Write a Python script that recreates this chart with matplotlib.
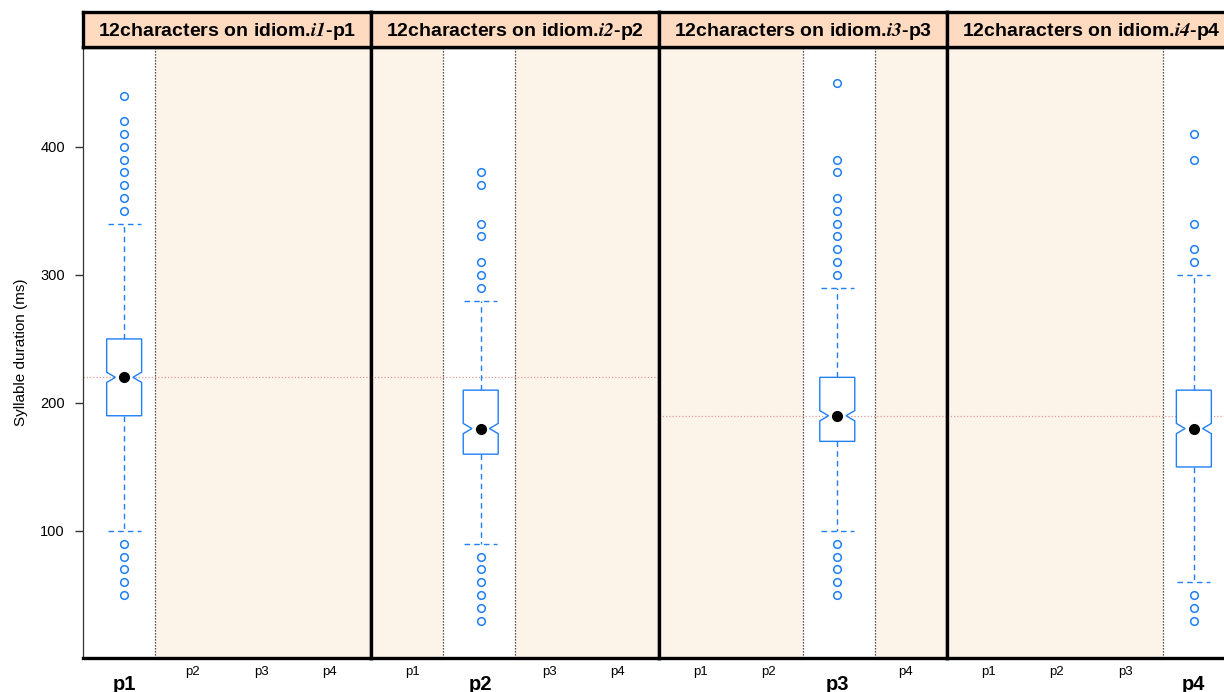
import matplotlib
matplotlib.use("Agg")
import matplotlib.pyplot as plt
from matplotlib.transforms import blended_transform_factory

plt.rcParams['font.family'] = ['Liberation Sans', 'DejaVu Sans']
plt.rcParams['mathtext.fontset'] = 'stix'

# Positions within each idiom, and which one each panel highlights
positions = ['p1', 'p2', 'p3', 'p4']
idioms = ['i1', 'i2', 'i3', 'i4']
highlight = [1, 2, 3, 4]

# Box statistics of syllable duration (ms) for the highlighted position
medians = [220, 180, 190, 180]
q1 = [190, 160, 170, 150]
q3 = [250, 210, 220, 210]
whisker_lo = [100, 90, 100, 60]
whisker_hi = [340, 280, 290, 300]
notch_half = [4, 4, 4, 4]
outliers_hi = [
    [350, 360, 370, 380, 390, 400, 410, 420, 440],
    [290, 300, 310, 330, 340, 370, 380],
    [300, 310, 320, 330, 340, 350, 360, 380, 390, 450],
    [310, 320, 340, 390, 410],
]
outliers_lo = [
    [50, 60, 70, 80, 90],
    [30, 40, 50, 60, 70, 80],
    [50, 60, 70, 80, 90],
    [30, 40, 50],
]
reference_line = [220, 220, 190, 190]

BLUE = '#1F7FF5'
SHADE = '#FDF4E9'
STRIP = '#FDDAC0'

W, H = 1224, 692
fig = plt.figure(figsize=(W / 100, H / 100), dpi=100)

left_px, panel_w = 83, 288
top_px, bottom_px, strip_h = 47, 658, 35
xlim = (0.4, 4.6)
ylim = (0.8, 478)
n = len(positions)
band = (xlim[1] - xlim[0]) / n
band_edges = [xlim[0] + j * band for j in range(n + 1)]

for k in range(4):
    x0 = left_px + k * panel_w
    ax = fig.add_axes([x0 / W, (H - bottom_px) / H, panel_w / W, (bottom_px - top_px) / H])
    ax.set_xlim(*xlim)
    ax.set_ylim(*ylim)
    ax.set_facecolor('white')
    h = highlight[k]

    # shaded bands for the positions not shown in this panel
    for i in range(n):
        if i + 1 != h:
            ax.axvspan(band_edges[i], band_edges[i + 1], color=SHADE, lw=0, zorder=0)
    for xb in (band_edges[h - 1], band_edges[h]):
        if xlim[0] < xb < xlim[1] - 1e-9:
            ax.axvline(xb, color='#222222', lw=0.9, ls=(0, (1, 1.4)), zorder=1)

    ax.axhline(reference_line[k], color='#E39A9A', lw=0.9, ls=(0, (1, 1.6)), zorder=1)

    stats = [dict(med=medians[k], q1=q1[k], q3=q3[k],
                  whislo=whisker_lo[k], whishi=whisker_hi[k],
                  cilo=medians[k] - notch_half[k], cihi=medians[k] + notch_half[k],
                  fliers=outliers_hi[k] + outliers_lo[k])]
    bw = 0.51
    ax.bxp(stats, positions=[h], widths=bw, capwidths=[bw * 0.95],
           shownotches=True, patch_artist=True,
           boxprops=dict(facecolor='white', edgecolor=BLUE, lw=1.0),
           whiskerprops=dict(color=BLUE, lw=1.0, ls=(0, (4, 3))),
           capprops=dict(color=BLUE, lw=1.0, ls=(0, (4, 3))),
           medianprops=dict(lw=0),
           flierprops=dict(marker='o', markerfacecolor='none', markeredgecolor=BLUE,
                           markersize=5.5, markeredgewidth=1.1, linestyle='none'),
           manage_ticks=False, zorder=3)
    ax.plot([h], [medians[k]], 'o', color='black', ms=7, zorder=5)

    # panel frame
    for side in ('top', 'bottom', 'left', 'right'):
        ax.spines[side].set_linewidth(2.4)
        ax.spines[side].set_color('black')
    if k == 0:
        ax.spines['left'].set_linewidth(0.9)
        ax.spines['left'].set_color('#333333')
        ax.set_yticks([100, 200, 300, 400])
        ax.tick_params(axis='y', direction='out', length=6, width=1, pad=7,
                       labelsize=10.5, color='#333333')
        ax.set_ylabel('Syllable duration (ms)', fontsize=11, labelpad=9)
    else:
        ax.set_yticks([])
    ax.set_xticks([])

    # category labels under the panel
    tr = blended_transform_factory(ax.transData, fig.transFigure)
    for i, name in enumerate(positions, start=1):
        if i == h:
            ax.text(i, (H - 684) / H, name, transform=tr, ha='center', va='center',
                    fontsize=14.5, fontweight='bold')
        else:
            ax.text(i, (H - 672) / H, name, transform=tr, ha='center', va='center',
                    fontsize=9.5)

    # strip header
    sax = fig.add_axes([x0 / W, (H - top_px) / H, panel_w / W, strip_h / H])
    sax.set_facecolor(STRIP)
    sax.set_xticks([])
    sax.set_yticks([])
    for side in ('top', 'bottom', 'left', 'right'):
        sax.spines[side].set_linewidth(2.4)
    sax.text(0.5, 0.45, '12characters on idiom.$\\mathbfit{' + idioms[k] + '}$-' + positions[k],
             transform=sax.transAxes, ha='center', va='center',
             fontsize=14, fontweight='bold')

fig.savefig('out.png', dpi=100)
